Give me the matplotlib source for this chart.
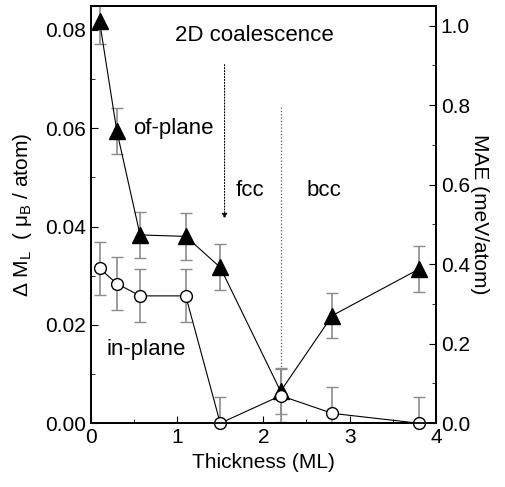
import numpy as np
import matplotlib
matplotlib.use('Agg')
import matplotlib.pyplot as plt
from matplotlib.ticker import MultipleLocator

plt.rcParams['font.family'] = ['Liberation Sans', 'DejaVu Sans']
plt.rcParams['mathtext.fontset'] = 'custom'
plt.rcParams['mathtext.rm'] = 'Liberation Sans'
plt.rcParams['mathtext.it'] = 'Liberation Sans'

# data (left axis units, mu_B / atom)
thickness = [0.1, 0.3, 0.57, 1.1, 1.5, 2.2, 2.8, 3.8]
of_plane = [0.0818, 0.0595, 0.0383, 0.0380, 0.0317, 0.0065, 0.0219, 0.0313]
of_plane_err = [0.0047, 0.0047, 0.0047, 0.0047, 0.0047, 0.0047, 0.0046, 0.0047]
in_plane = [0.0315, 0.0284, 0.0259, 0.0259, 0.0, 0.0056, 0.0020, 0.0]
in_plane_err = [0.0054, 0.0054, 0.0054, 0.0054, 0.0054, 0.0054, 0.0054, 0.0054]

fs = 15
fs_note = 16

fig = plt.figure(figsize=(5.05, 4.87), dpi=100)
ax = fig.add_axes([0.180, 0.131, 0.683, 0.857])

ax.errorbar(thickness, of_plane, yerr=of_plane_err, fmt='none', ecolor='0.55',
            elinewidth=1.2, capsize=4.5, capthick=1.0, zorder=2)
ax.errorbar(thickness, in_plane, yerr=in_plane_err, fmt='none', ecolor='0.55',
            elinewidth=1.2, capsize=4.5, capthick=1.0, zorder=2)
ax.plot(thickness, of_plane, '-', color='k', lw=0.8, marker='^', ms=11,
        mfc='k', mec='k', zorder=3, clip_on=False)
ax.plot(thickness, in_plane, '-', color='k', lw=0.8, marker='o', ms=8.5,
        mfc='white', mec='k', mew=1.0, zorder=3, clip_on=False)

# transition markers
ax.annotate('', xy=(1.55, 0.0410), xytext=(1.55, 0.0735),
            arrowprops=dict(arrowstyle='-|>', color='k', lw=0.8, ls=':',
                            mutation_scale=8))
ax.plot([2.21, 2.21], [0.0, 0.0648], ls=':', color='0.35', lw=0.9, zorder=1)

ax.text(0.97, 0.0788, '2D coalescence', fontsize=fs_note, ha='left', va='center')
ax.text(0.49, 0.0599, 'of-plane', fontsize=fs_note, ha='left', va='center')
ax.text(0.185, 0.0150, 'in-plane', fontsize=fs_note, ha='left', va='center')
ax.text(1.68, 0.0473, 'fcc', fontsize=fs_note, ha='left', va='center')
ax.text(2.50, 0.0473, 'bcc', fontsize=fs_note, ha='left', va='center')

ax.set_xlim(0, 4)
ax.set_ylim(0, 0.0849)
ax.xaxis.set_major_locator(MultipleLocator(1))
ax.xaxis.set_minor_locator(MultipleLocator(0.5))
ax.yaxis.set_major_locator(MultipleLocator(0.02))
ax.yaxis.set_minor_locator(MultipleLocator(0.01))
ax.yaxis.set_major_formatter(matplotlib.ticker.FormatStrFormatter('%.2f'))
ax.tick_params(direction='in', which='both', labelsize=fs, top=False)
ax.tick_params(which='major', length=5)
ax.tick_params(which='minor', length=3)
ax.set_xlabel('Thickness (ML)', fontsize=fs, labelpad=4)
ax.set_ylabel(r'$\Delta$ M$_\mathregular{L}$  ( $\mu_\mathregular{B}$ / atom)', fontsize=fs, labelpad=8)

ax2 = ax.twinx()
ax2.set_ylim(0, 1.050)
ax2.yaxis.set_major_locator(MultipleLocator(0.2))
ax2.yaxis.set_minor_locator(MultipleLocator(0.1))
ax2.yaxis.set_major_formatter(matplotlib.ticker.FormatStrFormatter('%.1f'))
ax2.tick_params(direction='in', which='both', labelsize=fs)
ax2.tick_params(which='major', length=5)
ax2.tick_params(which='minor', length=3)
ax2.set_ylabel('MAE (meV/atom)', fontsize=fs, rotation=270, labelpad=14)

for a in (ax, ax2):
    for s in a.spines.values():
        s.set_linewidth(1.3)

fig.savefig('out.png', dpi=100)
